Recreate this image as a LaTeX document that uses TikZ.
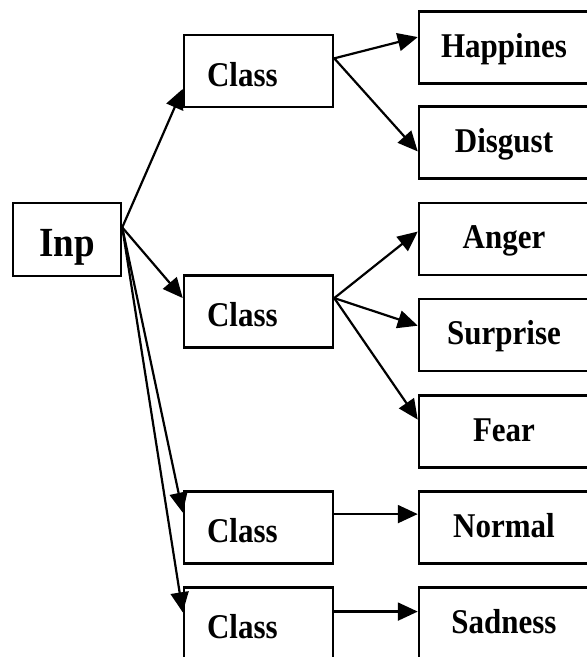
\documentclass[tikz,border=0pt]{standalone}
\usepackage{fontspec}
\setmainfont{Liberation Serif}
\usepackage{graphicx}
\usetikzlibrary{arrows.meta,calc}
\newcommand{\lbltxt}[2]{\scalebox{1}[1.12]{\fontsize{#1}{#1}\selectfont\bfseries #2}}
\begin{document}
\begin{tikzpicture}[x=1pt,y=-1pt,
  box/.style={draw, line width=2.5pt, rectangle, inner sep=0pt, minimum height=72pt},
  inpbox/.style={box, minimum width=108pt, minimum height=73pt, text height=34pt, text depth=0pt},
  clsbox/.style={box, text width=149pt, align=left, text height=30pt, text depth=0pt},
  outbox/.style={box, minimum width=176pt, text height=19pt, text depth=0pt},
  arr/.style={line width=2.2pt, -{Triangle[length=20pt,width=18pt]}}]
\useasboundingbox (0,0) rectangle (587,657);
\clip (0,0) rectangle (587,657);
% input
\node[inpbox] (inp) at (67,239.5) {\lbltxt{37}{Inp}};
% classifiers
\node[clsbox] (c1) at (258.5,71)    {\hspace*{23pt}\lbltxt{31}{Class}};
\node[clsbox] (c2) at (258.5,311.5) {\hspace*{23pt}\lbltxt{31}{Class}};
\node[clsbox] (c3) at (258.5,527.5) {\hspace*{23pt}\lbltxt{31}{Class}};
\node[clsbox] (c4) at (258.5,623.5) {\hspace*{23pt}\lbltxt{31}{Class}};
% outputs
\node[outbox] (hap) at (507,47.5)  {\hspace*{-6pt}\lbltxt{31}{Happines}};
\node[outbox] (dis) at (507,142.5) {\hspace*{-6pt}\lbltxt{31}{Disgust}};
\node[outbox] (ang) at (507,239)   {\hspace*{-6pt}\lbltxt{31}{Anger}};
\node[outbox] (sur) at (507,335)   {\hspace*{-6pt}\lbltxt{31}{Surprise}};
\node[outbox] (fea) at (507,431.5) {\hspace*{-6pt}\lbltxt{31}{Fear}};
\node[outbox] (nor) at (507,527.5) {\hspace*{-6pt}\lbltxt{31}{Normal}};
\node[outbox] (sad) at (507,623.5) {\hspace*{-6pt}\lbltxt{31}{Sadness}};
% connectors from input
\coordinate (io) at ($(inp.north east)!0.34!(inp.south east)$);
\draw[arr] (io) -- ($(c1.north west)!0.74!(c1.south west)$);
\draw[arr] (io) -- ($(c2.north west)!0.32!(c2.south west)$);
\draw[arr] (io) -- ($(c3.north west)!0.30!(c3.south west)$);
\draw[arr] (io) -- ($(c4.north west)!0.35!(c4.south west)$);
% connectors from classifiers
\coordinate (o1) at ($(c1.north east)!0.33!(c1.south east)$);
\draw[arr] (o1) -- ($(hap.north west)!0.36!(hap.south west)$);
\draw[arr] (o1) -- ($(dis.north west)!0.62!(dis.south west)$);
\coordinate (o2) at ($(c2.north east)!0.32!(c2.south east)$);
\draw[arr] (o2) -- ($(ang.north west)!0.40!(ang.south west)$);
\draw[arr] (o2) -- ($(sur.north west)!0.375!(sur.south west)$);
\draw[arr] (o2) -- ($(fea.north west)!0.34!(fea.south west)$);
\draw[arr] ($(c3.north east)!0.32!(c3.south east)$) -- ($(nor.north west)!0.32!(nor.south west)$);
\draw[arr] ($(c4.north east)!0.34!(c4.south east)$) -- ($(sad.north west)!0.34!(sad.south west)$);
\end{tikzpicture}
\end{document}
